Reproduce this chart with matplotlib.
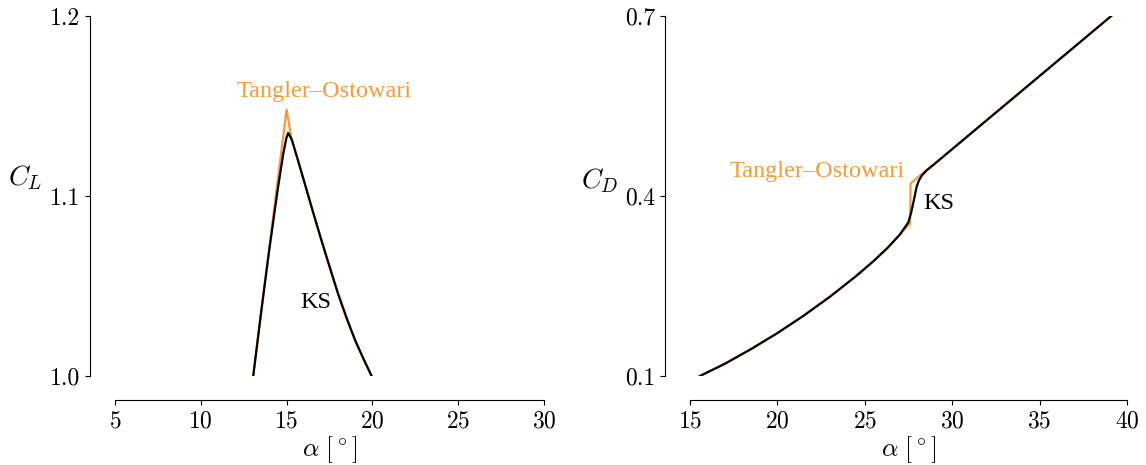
import matplotlib
import matplotlib.pyplot as plt
from matplotlib.ticker import FormatStrFormatter

matplotlib.use("Agg")

plt.rcParams["font.family"] = "serif"
plt.rcParams["font.serif"] = ["cmr10"]
plt.rcParams["mathtext.fontset"] = "cm"
plt.rcParams["axes.formatter.use_mathtext"] = True

ORANGE = "#f89a3a"
LABEL_FONT = "Liberation Serif"

# lift coefficient vs angle of attack
cl_alpha_ks = [13.06, 13.5, 14.0, 14.5, 14.8, 15.0, 15.1, 15.3, 15.6, 16.0, 16.5,
               17.0, 17.5, 18.0, 18.5, 19.0, 19.5, 19.96]
cl_ks = [1.0, 1.034, 1.0705, 1.1045, 1.123, 1.1325, 1.135, 1.1315, 1.122, 1.109, 1.0925,
         1.0765, 1.061, 1.0458, 1.0322, 1.0198, 1.0092, 1.0]
cl_alpha_to = [13.06, 14.0, 15.0, 15.3, 15.6, 16.0, 16.5,
               17.0, 17.5, 18.0, 18.5, 19.0, 19.5, 19.96]
cl_to = [1.0, 1.0717, 1.148, 1.1315, 1.122, 1.109, 1.0925,
         1.0765, 1.061, 1.0458, 1.0322, 1.0198, 1.0092, 1.0]

# drag coefficient vs angle of attack
cd_alpha_ks = [15.57, 17.0, 18.5, 20.0, 21.5, 23.0, 24.5, 25.5, 26.3, 27.0, 27.49,
               27.65, 27.8, 27.97, 28.1, 28.26, 28.54, 28.92, 34.0, 39.1]
cd_ks = [0.1, 0.1205, 0.145, 0.1715, 0.2005, 0.232, 0.2665, 0.2915, 0.3135, 0.3355, 0.356,
         0.372, 0.392, 0.416, 0.426, 0.434, 0.4428, 0.4518, 0.5756, 0.7]
cd_alpha_to = [15.57, 17.0, 18.5, 20.0, 21.5, 23.0, 24.5, 25.5, 26.3, 27.0, 27.59,
               27.62, 28.44, 28.92, 34.0, 39.1]
cd_to = [0.1, 0.1205, 0.145, 0.1715, 0.2005, 0.232, 0.2665, 0.2915, 0.3135, 0.3355, 0.354,
         0.421, 0.441, 0.4518, 0.5756, 0.7]

fig = plt.figure(figsize=(11.46, 4.65), dpi=100)
ax_l = fig.add_axes([0.1003, 0.1914, 0.3743, 0.7742])
ax_r = fig.add_axes([0.6021, 0.1914, 0.3813, 0.7742])


def style_axes(ax):
    for side in ("top", "right"):
        ax.spines[side].set_visible(False)
    ax.spines["left"].set_position(("outward", 18))
    ax.spines["bottom"].set_position(("outward", 17.5))
    ax.tick_params(labelsize=17, length=3.5, width=0.8)
    ax.yaxis.set_major_formatter(FormatStrFormatter("%.1f"))
    ax.set_xlabel(r"$\alpha\ [^\circ]$", fontsize=18.5, va="center")
    ax.xaxis.set_label_coords(0.5, -0.205)


ax_l.plot(cl_alpha_to, cl_to, color=ORANGE, lw=1.6)
ax_l.plot(cl_alpha_ks, cl_ks, color="black", lw=1.6)
ax_l.set_xlim(5, 30)
ax_l.set_ylim(1.0, 1.2)
ax_l.set_xticks([5, 10, 15, 20, 25, 30])
ax_l.set_yticks([1.0, 1.1, 1.2])
style_axes(ax_l)
ax_l.set_ylabel(r"$C_L$", fontsize=20, rotation=0, va="center", ha="center")
ax_l.yaxis.set_label_coords(-0.21, 0.55)
ax_l.text(17.2, 1.158, "Tangler–Ostowari", color=ORANGE, fontsize=17.5,
          family=LABEL_FONT, ha="center", va="center")
ax_l.text(16.7, 1.041, "KS", color="black", fontsize=17.5,
          family=LABEL_FONT, ha="center", va="center")

ax_r.plot(cd_alpha_to, cd_to, color=ORANGE, lw=1.6)
ax_r.plot(cd_alpha_ks, cd_ks, color="black", lw=1.6)
ax_r.set_xlim(15, 40)
ax_r.set_ylim(0.1, 0.7)
ax_r.set_xticks([15, 20, 25, 30, 35, 40])
ax_r.set_yticks([0.1, 0.4, 0.7])
style_axes(ax_r)
ax_r.set_ylabel(r"$C_D$", fontsize=20, rotation=0, va="center", ha="center")
ax_r.yaxis.set_label_coords(-0.206, 0.544)
ax_r.text(27.3, 0.44, "Tangler–Ostowari", color=ORANGE, fontsize=17.5,
          family=LABEL_FONT, ha="right", va="center")
ax_r.text(29.25, 0.388, "KS", color="black", fontsize=17.5,
          family=LABEL_FONT, ha="center", va="center")

fig.savefig("out.png", dpi=100)
